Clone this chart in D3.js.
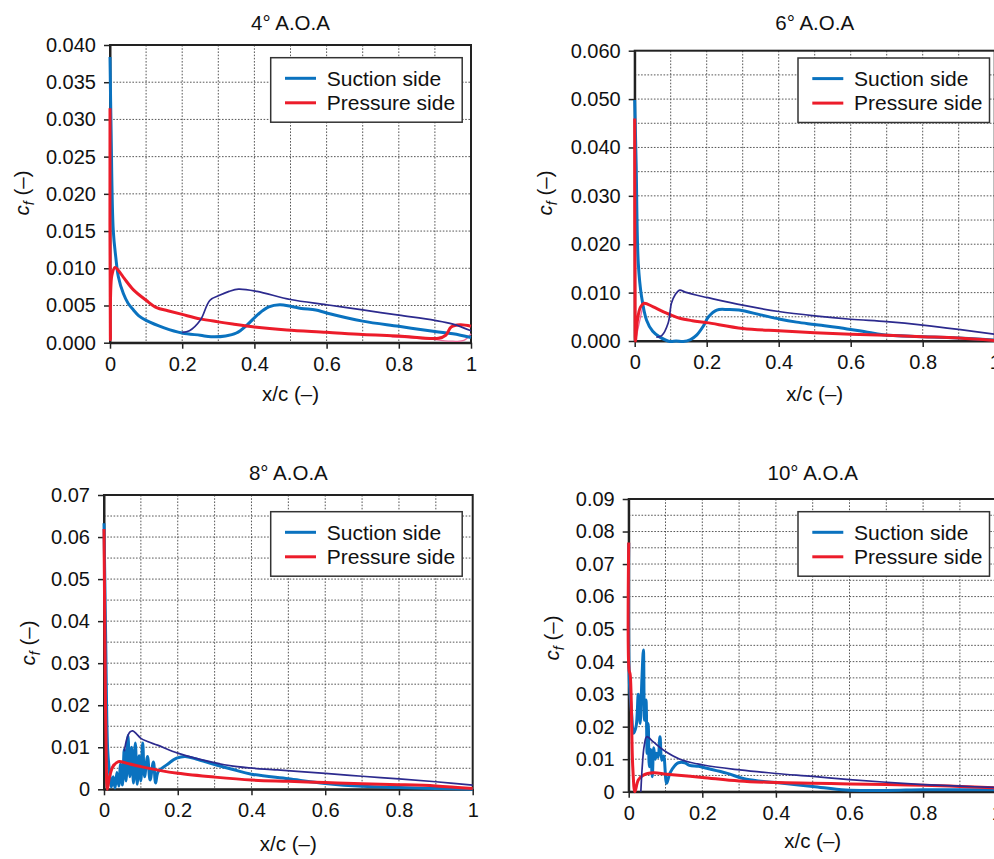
<!DOCTYPE html>
<html>
<head>
<meta charset="utf-8">
<script src="https://cdn.jsdelivr.net/npm/d3@7"></script>
<style>
  body { margin: 0; background: #fff; }
  svg { display: block; font-family: "Liberation Sans", Arial, Helvetica, sans-serif; }
</style>
</head>
<body>
<script>
// values, [x/c, cf]
let suction4 = [[0,0.0384],[0.003,0.0286],[0.009,0.0151],[0.016,0.0115],[0.023,0.0089],[0.037,0.0066],[0.05,0.0053],[0.065,0.0044],[0.08,0.0036],[0.1,0.003],[0.15,0.002],[0.2,0.0013],[0.25,0.001],[0.28,0.0008],[0.32,0.0009],[0.35,0.0013],[0.38,0.0024],[0.41,0.0038],[0.44,0.0048],[0.47,0.0051],[0.5,0.0049],[0.53,0.0046],[0.57,0.0044],[0.6,0.004],[0.7,0.0029],[0.8,0.0022],[0.9,0.0015],[0.95,0.0012],[1,0.0007]];
let pressure4 = [[0,0.0315],[0.001,0.0004],[0.005,0.009],[0.014,0.0101],[0.025,0.0096],[0.04,0.0086],[0.065,0.0071],[0.1,0.0057],[0.129,0.0047],[0.16,0.0043],[0.2,0.0038],[0.25,0.0032],[0.3,0.0028],[0.34,0.0025],[0.4,0.0021],[0.49,0.0017],[0.6,0.0014],[0.7,0.0011],[0.8,0.0009],[0.91,0.0006],[0.93,0.001],[0.945,0.0021],[0.97,0.0024],[1,0.0022]];
let extra4 = [[0.2,0.0014],[0.22,0.0016],[0.25,0.003],[0.277,0.0057],[0.305,0.0064],[0.33,0.0069],[0.356,0.0072],[0.407,0.0069],[0.5,0.0058],[0.6,0.0051],[0.7,0.0044],[0.8,0.0037],[0.9,0.003],[0.95,0.0025],[1,0.0016]];
let pink4 = [[0.78,0.0008],[0.85,0.0006],[0.9,0.0004],[0.95,0.0002],[0.98,0.0003],[1,0.0012]];

let suction6 = [[0,0.0498],[0.004,0.0367],[0.01,0.016],[0.019,0.0092],[0.033,0.0043],[0.05,0.002],[0.07,0.0008],[0.098,-0.0001],[0.115,0],[0.135,-0.0001],[0.155,0.0003],[0.172,0.0012],[0.19,0.003],[0.205,0.005],[0.228,0.0064],[0.26,0.0065],[0.29,0.0064],[0.35,0.0054],[0.404,0.0045],[0.45,0.0039],[0.5,0.0034],[0.59,0.0025],[0.64,0.0019],[0.69,0.0013],[0.8,0.0009],[0.9,0.0006],[1,0.0002]];
let pressure6 = [[0,0.046],[0.001,0.005],[0.002,0],[0.008,0.0045],[0.016,0.007],[0.026,0.0078],[0.05,0.0071],[0.08,0.006],[0.1,0.0054],[0.125,0.0047],[0.16,0.0042],[0.2,0.0038],[0.3,0.0026],[0.4,0.0021],[0.5,0.0017],[0.6,0.0014],[0.7,0.0012],[0.8,0.0009],[0.9,0.0006],[1,0.0001]];
let extra6 = [[0.06,0.0008],[0.075,0.0011],[0.093,0.0037],[0.102,0.0078],[0.112,0.0095],[0.125,0.0105],[0.14,0.0101],[0.17,0.0095],[0.2,0.009],[0.3,0.0074],[0.4,0.0061],[0.5,0.0052],[0.6,0.0045],[0.7,0.004],[0.8,0.0033],[0.9,0.0024],[1,0.0014]];
let pink6 = [[0.002,0],[0.012,0.0035],[0.022,0.007]];

let suction8 = [[0,0.0633],[0.003,0.045],[0.005,0.033],[0.007,0.02],[0.01,0.0094],[0.015,0.004],[0.02,0.0006],[0.025,0.003],[0.03,0.0003],[0.035,0.004],[0.04,0.0008],[0.045,0.006],[0.05,0.001],[0.055,0.0095],[0.06,0.002],[0.065,0.0128],[0.07,0.003],[0.075,0.01],[0.08,0.0015],[0.085,0.011],[0.09,0.0012],[0.095,0.008],[0.1,0.002],[0.105,0.011],[0.11,0.003],[0.118,0.0078],[0.125,0.0022],[0.134,0.0065],[0.14,0.0015],[0.147,0.0042],[0.17,0.0058],[0.197,0.0074],[0.22,0.0078],[0.25,0.0072],[0.3,0.0059],[0.35,0.0047],[0.4,0.0036],[0.5,0.0025],[0.6,0.0014],[0.7,0.0007],[0.8,0.0004],[0.9,0.0002],[1,0]];
let pressure8 = [[0,0.0619],[0.002,0.04],[0.004,0.0205],[0.006,0.008],[0.009,0],[0.015,0.003],[0.025,0.0055],[0.039,0.0066],[0.05,0.0065],[0.07,0.006],[0.1,0.0054],[0.15,0.0045],[0.2,0.0038],[0.3,0.0029],[0.4,0.0022],[0.5,0.0019],[0.6,0.0016],[0.7,0.0013],[0.8,0.0011],[0.9,0.0008],[1,0.0002]];
let extra8 = [[0.055,0.009],[0.062,0.012],[0.07,0.0136],[0.078,0.0139],[0.088,0.0132],[0.1,0.0121],[0.12,0.0113],[0.145,0.0105],[0.2,0.0086],[0.26,0.0071],[0.35,0.0055],[0.47,0.0046],[0.6,0.0038],[0.7,0.0031],[0.8,0.0025],[0.9,0.0018],[1,0.001]];
let pink8 = [[0.008,0.0005],[0.015,0.0035],[0.025,0.006]];

let suction10 = [[0,0.0765],[0.002,0.0333],[0.008,0.024],[0.013,0.018],[0.02,0.02],[0.026,0.03],[0.031,0.021],[0.036,0.035],[0.04,0.0436],[0.043,0.022],[0.047,0.0282],[0.05,0.0118],[0.053,0.021],[0.056,0.0077],[0.06,0.013],[0.064,0.0046],[0.068,0.0135],[0.072,0.01],[0.076,0.0118],[0.08,0.0105],[0.085,0.0169],[0.09,0.0097],[0.095,0.011],[0.103,0.0026],[0.112,0.0057],[0.125,0.008],[0.135,0.0089],[0.152,0.0089],[0.165,0.0081],[0.19,0.0078],[0.212,0.0072],[0.266,0.0057],[0.32,0.0038],[0.4,0.0028],[0.5,0.0016],[0.59,0.0005],[0.7,0.0004],[0.8,0.0006],[0.9,0.0006],[1,0.0006]];
let pressure10 = [[0,0.0766],[0.001,0.0374],[0.004,0.036],[0.011,0.0077],[0.017,0],[0.026,0.0036],[0.04,0.0051],[0.067,0.0058],[0.103,0.0054],[0.2,0.0044],[0.3,0.0033],[0.4,0.0028],[0.5,0.0026],[0.6,0.0024],[0.7,0.0022],[0.8,0.002],[0.9,0.0016],[1,0.0012]];
let extra10 = [[0.033,0],[0.037,0.008],[0.042,0.014],[0.049,0.0169],[0.067,0.0153],[0.094,0.0128],[0.139,0.01],[0.203,0.0082],[0.302,0.0067],[0.4,0.0056],[0.5,0.0047],[0.6,0.0037],[0.7,0.0029],[0.8,0.0022],[0.9,0.0017],[1,0.0013]];

let titles = ["4° A.O.A", "6° A.O.A", "8° A.O.A", "10° A.O.A"];
let yMaxes = [0.04, 0.06, 0.07, 0.09];
let yTickSteps = [0.005, 0.01, 0.01, 0.01];
let xTicks = [0, 0.2, 0.4, 0.6, 0.8, 1];
let legendNames = ["Suction side", "Pressure side"];

let panels = [
  { suction: suction4, pressure: pressure4, extra: extra4, pink: pink4 },
  { suction: suction6, pressure: pressure6, extra: extra6, pink: pink6 },
  { suction: suction8, pressure: pressure8, extra: extra8, pink: pink8 },
  { suction: suction10, pressure: pressure10, extra: extra10, pink: [] }
];

// where each panel sits on the page
let boxes = [
  { l: 110, r: 471, t: 45, b: 342.7, legX: 270.7, legY: 57.7, labX: 22, labY: 193, titleY: 29.5, xlabY: 401 },
  { l: 634.7, r: 994.7, t: 50.7, b: 341, legX: 798, legY: 58, labX: 545, labY: 193, titleY: 29.5, xlabY: 401 },
  { l: 104, r: 472.7, t: 495, b: 789.3, legX: 270.7, legY: 511.7, labX: 28.3, labY: 643, titleY: 479.5, xlabY: 851 },
  { l: 628.7, r: 996.7, t: 499, b: 791.7, legX: 798, legY: 511.7, labX: 551.7, labY: 638, titleY: 479.5, xlabY: 848 }
];

let colors = { suction: "#0a72bf", pressure: "#ec1c2a", extra: "#2c2a8e", pink: "#f06a9c" };

let svg = d3.select("body")
  .append("svg")
  .attr("width", 994)
  .attr("height", 859)
  .attr("viewBox", "0 0 994 859");

let fmtX = d3.format("~g");

let drawPanel = (p, i) => {
  let box = boxes[i];
  let yMax = yMaxes[i];
  let step = yTickSteps[i];
  let g = svg.append("g");

  let xScale = d3.scaleLinear().domain([0, 1]).range([box.l, box.r]);
  let yScale = d3.scaleLinear().domain([0, yMax]).range([box.b, box.t]);

  let yTicks = d3.range(0, Math.round(yMax / step) + 1).map(k => +(k * step).toFixed(4));
  let yGrid = d3.range(1, Math.round(yMax / 0.005)).map(k => +(k * 0.005).toFixed(4));
  let xGrid = d3.range(1, 10).map(k => k / 10);

  let fmtY = i < 2 ? d3.format(".3f") : (d => d === 0 ? "0" : d3.format(".2f")(d));

  // grid
  g.append("g").selectAll("line")
    .data(yGrid)
    .enter()
    .append("line")
    .attr("x1", box.l).attr("x2", box.r)
    .attr("y1", d => yScale(d)).attr("y2", d => yScale(d))
    .attr("stroke", "#444").attr("stroke-width", 0.9).attr("stroke-dasharray", "1.6,1.6");
  g.append("g").selectAll("line")
    .data(xGrid)
    .enter()
    .append("line")
    .attr("y1", box.t).attr("y2", box.b)
    .attr("x1", d => xScale(d)).attr("x2", d => xScale(d))
    .attr("stroke", "#444").attr("stroke-width", 0.9).attr("stroke-dasharray", "1.6,1.6");

  // frame
  g.append("rect")
    .attr("x", box.l).attr("y", box.t)
    .attr("width", box.r - box.l).attr("height", box.b - box.t)
    .attr("fill", "none").attr("stroke", "#222").attr("stroke-width", 2);

  let xAxis = g.append("g")
    .attr("transform", "translate(0," + box.b + ")")
    .call(d3.axisBottom(xScale).tickValues(xTicks).tickFormat(fmtX).tickSize(6).tickPadding(8).tickSizeOuter(0));
  let yAxis = g.append("g")
    .attr("transform", "translate(" + box.l + ",0)")
    .call(d3.axisLeft(yScale).tickValues(yTicks).tickFormat(fmtY).tickSize(6).tickPadding(8).tickSizeOuter(0));
  [xAxis, yAxis].forEach(a => {
    a.select(".domain").attr("stroke", "#222").attr("stroke-width", 2);
    a.selectAll(".tick line").attr("stroke", "#222").attr("stroke-width", 1.5);
    a.selectAll("text").attr("font-size", 20).attr("fill", "#111").attr("font-family", null);
  });

  let line = d3.line()
    .x(d => xScale(d[0]))
    .y(d => yScale(d[1]))
    .curve(d3.curveCatmullRom.alpha(0.5));

  let draw = (data, color, w) => {
    if (!data.length) return;
    g.append("path")
      .datum(data)
      .attr("d", line)
      .attr("fill", "none")
      .attr("stroke", color)
      .attr("stroke-width", w)
      .attr("stroke-linejoin", "round");
  };
  draw(p.pink, colors.pink, 1.3);
  draw(p.suction, colors.suction, 3);
  draw(p.pressure, colors.pressure, 3);
  draw(p.extra, colors.extra, 1.7);

  // legend
  let leg = g.append("g").attr("transform", "translate(" + box.legX + "," + box.legY + ")");
  leg.append("rect")
    .attr("width", 191.5).attr("height", 64.5)
    .attr("fill", "#fff").attr("stroke", "#333").attr("stroke-width", 1.5);
  legendNames.forEach((name, k) => {
    let ly = 20.6 + k * 24.5;
    leg.append("line")
      .attr("x1", 14.3).attr("x2", 45.3).attr("y1", ly).attr("y2", ly)
      .attr("stroke", k === 0 ? colors.suction : colors.pressure).attr("stroke-width", 3);
    leg.append("text")
      .text(name)
      .attr("x", 56).attr("y", ly).attr("dy", "0.35em")
      .attr("font-size", 21).attr("fill", "#111");
  });

  // titles and labels
  let cx = (box.l + box.r) / 2;
  g.append("text")
    .text(titles[i])
    .attr("x", cx).attr("y", box.titleY)
    .attr("text-anchor", "middle").attr("font-size", 20.5).attr("fill", "#111");
  g.append("text")
    .text("x/c (–)")
    .attr("x", cx).attr("y", box.xlabY)
    .attr("text-anchor", "middle").attr("font-size", 20.5).attr("fill", "#111");
  let yl = g.append("text")
    .attr("transform", "translate(" + box.labX + "," + box.labY + ") rotate(-90)")
    .attr("text-anchor", "middle").attr("dy", "0.35em").attr("font-size", 20.5).attr("fill", "#111");
  yl.append("tspan").text("c").attr("font-style", "italic");
  yl.append("tspan").text("f").attr("font-style", "italic").attr("font-size", 14).attr("dy", 5);
  yl.append("tspan").text(" (–)").attr("dy", -5);
};

panels.forEach(drawPanel);
</script>
</body>
</html>
